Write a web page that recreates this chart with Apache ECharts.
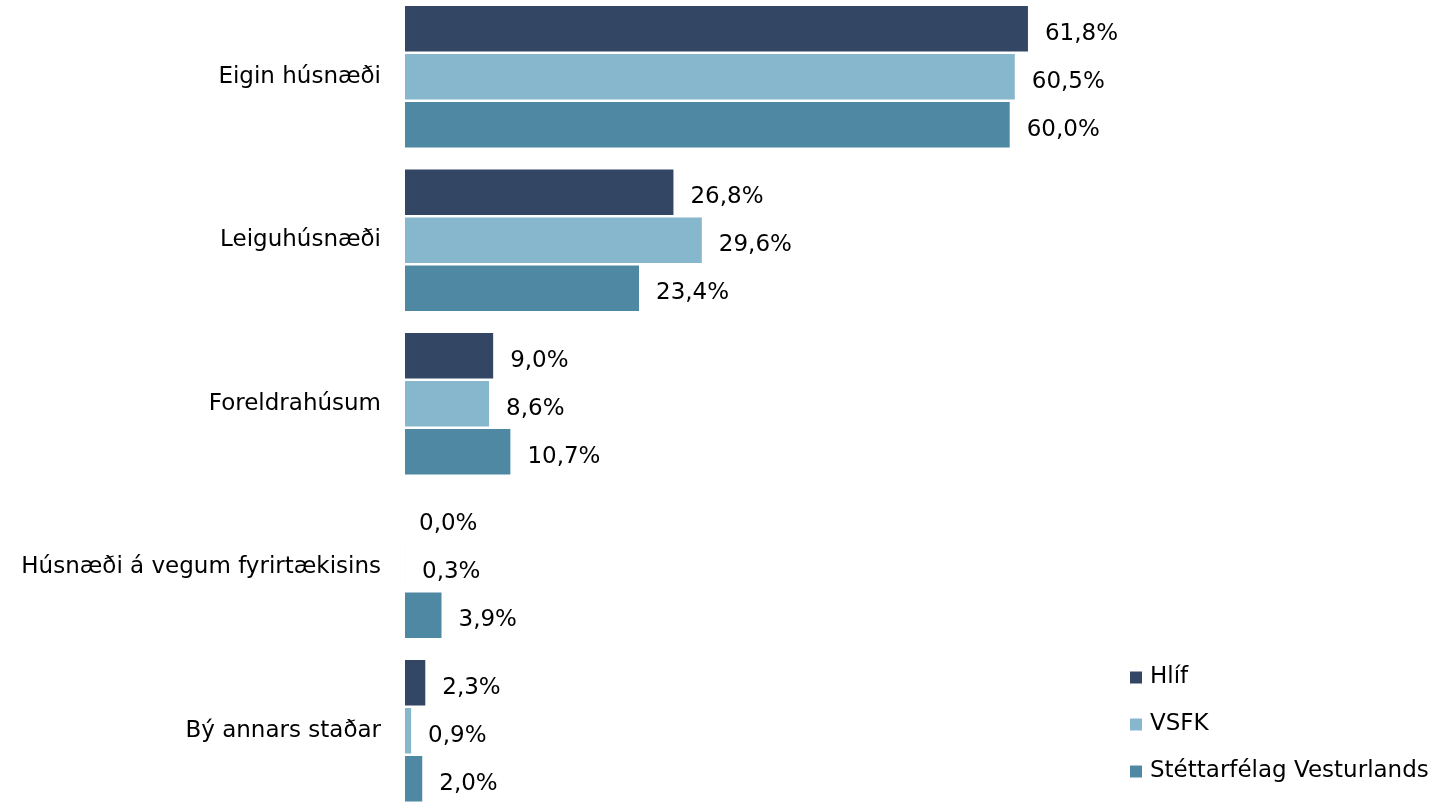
<!DOCTYPE html>
<html>
<head>
<meta charset="utf-8">
<script src="https://cdn.jsdelivr.net/npm/echarts@6/dist/echarts.min.js"></script>
<style>
html,body{margin:0;padding:0;background:#fff;}
#chart{width:1455px;height:804px;}
</style>
</head>
<body>
<div id="chart"></div>
<script>
const categories = ['Eigin húsnæði', 'Leiguhúsnæði', 'Foreldrahúsum', 'Húsnæði á vegum fyrirtækisins', 'Bý annars staðar'];
const seriesNames = ['Hlíf', 'VSFK', 'Stéttarfélag Vesturlands'];
const hlif = [61.8, 26.8, 9.0, 0.0, 2.3];
const vsfk = [60.5, 29.6, 8.6, 0.3, 0.9];
const stett = [60.0, 23.4, 10.7, 3.9, 2.0];
const colors = ['#334664', '#87b7cc', '#4f88a2'];

const FONT = 'DejaVu Sans';
const FS = 23;

const chart = echarts.init(document.getElementById('chart'), null, {renderer: 'canvas'});
const dataSets = [hlif, vsfk, stett];

chart.setOption({
  animation: false,
  backgroundColor: '#ffffff',
  grid: {left: 402, top: -5, width: 709, height: 817.5, containLabel: false, outerBoundsMode: 'none'},
  legend: {
    orient: 'vertical',
    left: 1125,
    top: 661,
    itemWidth: 12,
    itemHeight: 12,
    itemGap: 24,
    icon: 'rect',
    data: seriesNames,
    textStyle: {fontFamily: FONT, fontSize: FS, color: '#000', padding: [0, 0, 0, 3], lineHeight: 23}
  },
  xAxis: {
    type: 'value',
    min: 0,
    max: 70,
    show: false
  },
  yAxis: {
    type: 'category',
    data: categories,
    inverse: true,
    z: 5,
    axisLine: {show: true, lineStyle: {color: '#ffffff', width: 6}},
    axisTick: {show: false},
    axisLabel: {fontFamily: FONT, fontSize: FS, color: '#000', margin: 21, padding: [5, 0, 0, 0]}
  },
  series: seriesNames.map((name, i) => ({
    name: name,
    type: 'bar',
    data: dataSets[i],
    barWidth: 45.5,
    barGap: '5.5%',
    itemStyle: {color: colors[i]},
    label: {
      show: true,
      position: 'right',
      distance: 17,
      offset: [0, 5],
      fontFamily: FONT,
      fontSize: FS,
      color: '#000',
      formatter: p => p.value.toFixed(1).replace('.', ',') + '%'
    }
  }))
});
</script>
</body>
</html>
